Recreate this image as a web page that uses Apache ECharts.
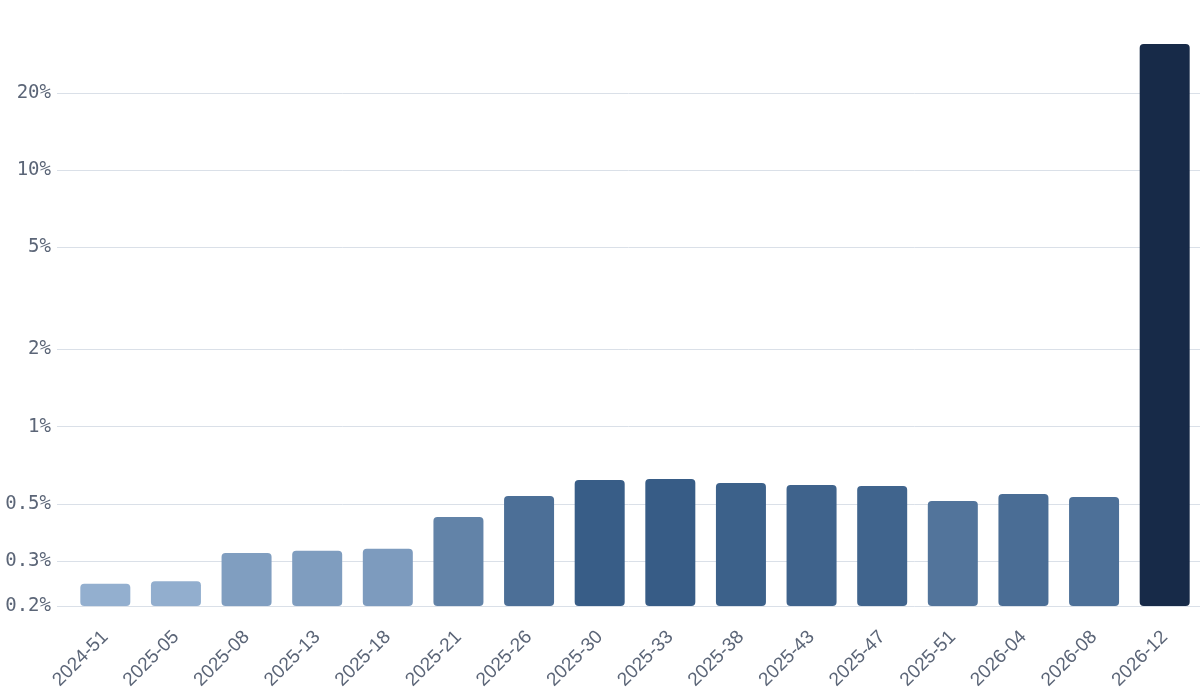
<!DOCTYPE html>
<html>
<head>
<meta charset="utf-8">
<script src="https://cdn.jsdelivr.net/npm/echarts@6/dist/echarts.min.js"></script>
<style>
  html, body { margin: 0; padding: 0; background: #fff; }
  #chart { width: 1200px; height: 699px; }
</style>
</head>
<body>
<div id="chart"></div>
<script>
var weeks = ['2024-51', '2025-05', '2025-08', '2025-13', '2025-18', '2025-21', '2025-26', '2025-30',
  '2025-33', '2025-38', '2025-43', '2025-47', '2025-51', '2026-04', '2026-08', '2026-12'];
var shares = [0.244, 0.250, 0.322, 0.328, 0.334, 0.445, 0.537, 0.620,
  0.625, 0.603, 0.593, 0.587, 0.513, 0.547, 0.532, 31];
var tickValues = [0.2, 0.3, 0.5, 1, 2, 5, 10, 20];

var chart = echarts.init(document.getElementById('chart'));

// colour ramp: light blue -> dark blue over the normal range, outliers get navy
var light = [147, 175, 207], dark = [55, 92, 134], outlier = '#172a48';
var lo = Math.min.apply(null, shares);
var hi = 0.625;
var barColor = function(p) {
  var v = p.value;
  if (v > 1) return outlier;
  var t = Math.max(0, Math.min(1, (v - lo) / (hi - lo)));
  var c = light.map(function(a, i) { return Math.round(a + (dark[i] - a) * t); });
  return 'rgb(' + c.join(',') + ')';
};

var yMin = 0.2, yMax = 31;
var fmt = function(v) { return v + '%'; };

chart.setOption({
  backgroundColor: '#fff',
  animation: false,
  grid: [
    { left: 70, right: 0, top: 44, bottom: 93 },
    { left: 57, right: 0, top: 44, bottom: 93 }
  ],
  xAxis: [{
    type: 'category',
    gridIndex: 0,
    data: weeks,
    axisLine: { show: false },
    axisTick: { show: false },
    axisLabel: {
      rotate: 45,
      margin: 28,
      interval: 0,
      color: '#5b6577',
      fontFamily: 'Liberation Sans',
      fontSize: 19
    }
  }, {
    type: 'value',
    gridIndex: 1,
    show: false
  }],
  yAxis: [{
    type: 'log',
    gridIndex: 0,
    min: yMin,
    max: yMax,
    startValue: yMin,
    show: false
  }, {
    type: 'log',
    gridIndex: 1,
    min: yMin,
    max: yMax,
    axisLine: { show: false },
    axisTick: { show: false, customValues: tickValues },
    splitLine: { show: true, lineStyle: { color: '#dae0e8', width: 1 } },
    axisLabel: {
      customValues: tickValues,
      formatter: fmt,
      margin: 6,
      color: '#5b6577',
      fontFamily: 'DejaVu Sans Mono',
      fontSize: 19
    }
  }],
  series: [{
    type: 'bar',
    xAxisIndex: 0,
    yAxisIndex: 0,
    data: shares,
    barWidth: 50,
    itemStyle: { color: barColor, borderRadius: [4, 4, 4, 4] },
    z: 3
  }]
});
</script>
</body>
</html>
